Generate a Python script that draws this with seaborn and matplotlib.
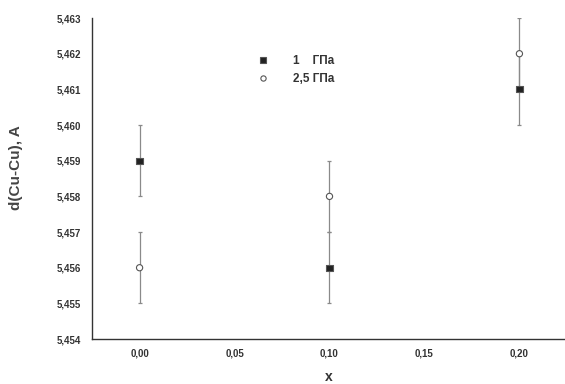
import numpy as np
import pandas as pd
import matplotlib
matplotlib.use("Agg")
import matplotlib.pyplot as plt
import seaborn as sns
from matplotlib.ticker import MultipleLocator, FuncFormatter

x_vals = [0.00, 0.10, 0.20]
d_1gpa = [5.459, 5.456, 5.461]
d_25gpa = [5.456, 5.458, 5.462]
err_1gpa = [0.001, 0.001, 0.001]
err_25gpa = [0.001, 0.001, 0.001]
series_labels = ["1    ГПа", "2,5 ГПа"]

df = pd.DataFrame({
    "x": x_vals * 2,
    "d": d_1gpa + d_25gpa,
    "err": err_1gpa + err_25gpa,
    "series": [series_labels[0]] * 3 + [series_labels[1]] * 3,
})

sns.set_style("white")
plt.rcParams['font.family'] = ['Liberation Sans', 'DejaVu Sans']

fig = plt.figure(figsize=(5.65, 3.84), dpi=100)
ax = fig.add_axes([0.163, 0.117, 0.837, 0.836])

for lab in series_labels:
    sub = df[df.series == lab]
    ax.errorbar(sub.x, sub.d, yerr=sub.err, fmt='none', ecolor='#8a8a8a',
                elinewidth=0.9, capsize=1.6, capthick=0.9, zorder=1)

sns.scatterplot(data=df, x="x", y="d", hue="series", style="series",
                markers={series_labels[0]: "s", series_labels[1]: "o"},
                palette={series_labels[0]: "#222222", series_labels[1]: "white"},
                s=20, edgecolor="#555555", linewidth=0.8, ax=ax, zorder=3, legend=True)

ax.set_xlim(-0.025, 0.224)
ax.set_ylim(5.454, 5.463)
ax.xaxis.set_major_locator(MultipleLocator(0.05))
ax.xaxis.set_minor_locator(MultipleLocator(0.025))
ax.yaxis.set_major_locator(MultipleLocator(0.001))
ax.yaxis.set_minor_locator(MultipleLocator(0.0005))
ax.xaxis.set_major_formatter(FuncFormatter(lambda v, p: f"{v:.2f}".replace('.', ',')))
ax.yaxis.set_major_formatter(FuncFormatter(lambda v, p: f"{v:.3f}".replace('.', ',')))

for s in ["top", "right"]:
    ax.spines[s].set_visible(False)
for s in ["left", "bottom"]:
    ax.spines[s].set_color("#333333")
    ax.spines[s].set_linewidth(1.0)

ax.tick_params(axis='both', which='both', direction='in', colors='#333333', labelcolor='#333333')
ax.tick_params(axis='both', which='major', length=4, width=0.8, labelsize=7)
ax.tick_params(axis='x', which='major', pad=7)
ax.tick_params(axis='y', which='major', pad=8)
ax.tick_params(axis='both', which='minor', length=2, width=0.8)
for lbl in ax.get_xticklabels() + ax.get_yticklabels():
    lbl.set_fontweight('bold')

ax.set_xlabel("x", fontsize=10, fontweight='bold', color='#333333', labelpad=8)
ax.set_ylabel("d(Cu-Cu), A", fontsize=11, fontweight='bold', color='#444444')
ax.yaxis.set_label_coords(-0.146, 0.534)

leg = ax.legend(loc='upper left', bbox_to_anchor=(0.315, 0.918), frameon=False,
                fontsize=8.5, handletextpad=1.5, markerscale=0.85, labelspacing=0.5)
for t in leg.get_texts():
    t.set_fontweight('bold')
    t.set_color('#333333')

fig.savefig("out.png", dpi=100)
